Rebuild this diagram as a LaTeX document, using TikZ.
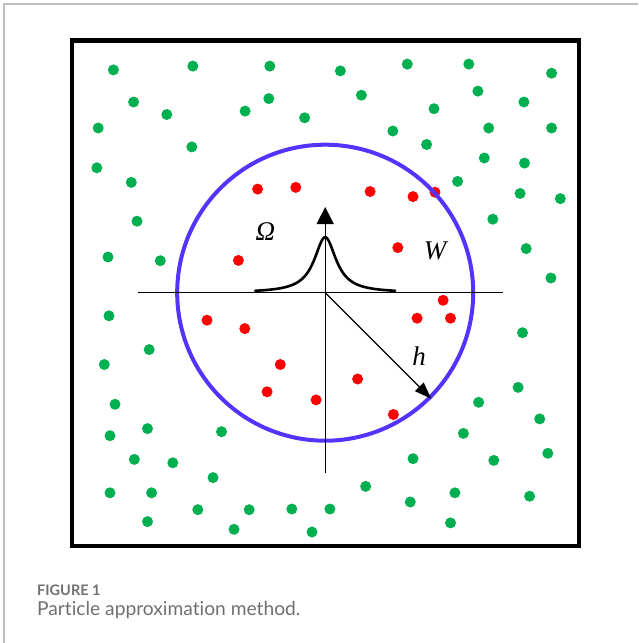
\documentclass[tikz,border=0pt]{standalone}
\usepackage{fontspec}
\setmainfont{Liberation Serif}
\newfontfamily\capfont[Ligatures=NoCommon]{Lato}
\usetikzlibrary{arrows.meta}
\definecolor{ringblue}{RGB}{85,51,255}
\definecolor{dotgreen}{RGB}{0,176,80}
\definecolor{dotred}{RGB}{255,0,0}
\definecolor{capgray}{RGB}{112,112,112}
\definecolor{cardgray}{RGB}{190,190,190}
\tikzset{
  greendot/.style={fill=dotgreen},
  reddot/.style={fill=dotred},
  axisline/.style={line width=1.4pt, black},
  lbl/.style={font=\fontsize{27}{32}\selectfont\itshape, inner sep=0pt},
}
\begin{document}
\begin{tikzpicture}[x=1pt, y=-1pt]
\useasboundingbox (0,0) rectangle (638,643);
% card edge
\draw[cardgray, line width=1.5pt] (4,643) -- (4,4) -- (638,4);
% frame
\draw[line width=4.5pt, black] (72,40.5) rectangle (579,546);
% green particles
\foreach \x/\y in {113.4/69.9,192.8/66.1,269.8/66.1,340.4/70.9,407.3/64.1,468.8/64.1,551.6/73.2,
133.6/102,166.8/114.5,245.1/111.1,268.8/98.6,304.6/117.8,361.4/95.2,434/108.7,477.9/91.1,523.9/102,
98.2/128,191.8/146.9,392.8/131,426.6/144.5,488.7/128,551.6/128,
96.8/167.8,131.3/182.4,484.3/158,524.5/163.1,457.6/181.4,520.1/193.5,560.3/198.6,
137/221.2,492.8/219.2,108/257,160.3/260.7,526.2/248.6,550.9/278,
109/315.8,149.2/349.6,522.5/332.7,104.3/364.5,115/404.3,518.1/387.4,478.6/402.3,539.7/418.9,
110/435.7,147.5/428.6,221.5/431.7,463.4/433.4,134.3/459.4,172.8/462.8,413/458.7,493.8/460.4,547.8/453.3,
213/477.6,365.7/486.4,110/492.8,151.6/492.8,410.3/502,454.9/492.8,529.6/496.2,
197.8/509.7,249.2/509.7,291.8/509,329.9/509,147.5/521.6,234/529.3,312/532,450.5/522.9}
  \fill[greendot] (\x,\y) circle (5.5pt);
% red particles
\foreach \x/\y in {257.6/189.1,295.8/187.4,370.1/191.5,413/196.6,435/192.2,397.8/247.6,238.4/260.4,
443.1/300.3,417.1/318.2,450.5/318.2,207/320.2,244.8/328.6,280.3/364.5,357.6/379,267.1/391.8,316.1/399.9,393.4/414.5}
  \fill[reddot] (\x,\y) circle (5.5pt);
% support domain
\node[circle, draw=ringblue, line width=4pt, minimum size=296pt, inner sep=0pt] (W) at (325.2,292.7) {};
\coordinate (O) at (325.2,292.7);
\coordinate (xl) at (138.4,292.7);
\coordinate (xr) at (502.6,292.7);
\coordinate (yb) at (325.2,473);
\coordinate (yt) at (325.2,207);
\draw[axisline] (xl) -- (xr);
\draw[axisline, -{Triangle[width=17pt,length=17pt]}] (yb) -- (yt);
% kernel
\draw[line width=2.6pt, black, line cap=round] plot[domain=-70:70, samples=141, smooth]
  ({325.2+\x}, {292.7 - 55.5/(1+(\x/13.3)^2)});
% radius
\draw[line width=1.4pt, -{Triangle[width=12pt,length=17pt]}] (O) -- (W.-45);
% labels
\node[lbl] (omega) at (265.4,231.7) {Ω};
\node[lbl] (wlab) at (435,251.3) {W};
\node[lbl] (hlab) at (419,356) {h};
% caption
\node[anchor=base west, inner sep=0pt, text=capgray, font=\capfont\bfseries\fontsize{14.5}{16}\selectfont] (fig) at (37,595.5) {FIGURE 1};
\node[anchor=base west, inner sep=0pt, text=capgray, font=\capfont\fontsize{19.2}{22}\selectfont] (cap) at (37,615) {Particle approximation method.};
\end{tikzpicture}
\end{document}
